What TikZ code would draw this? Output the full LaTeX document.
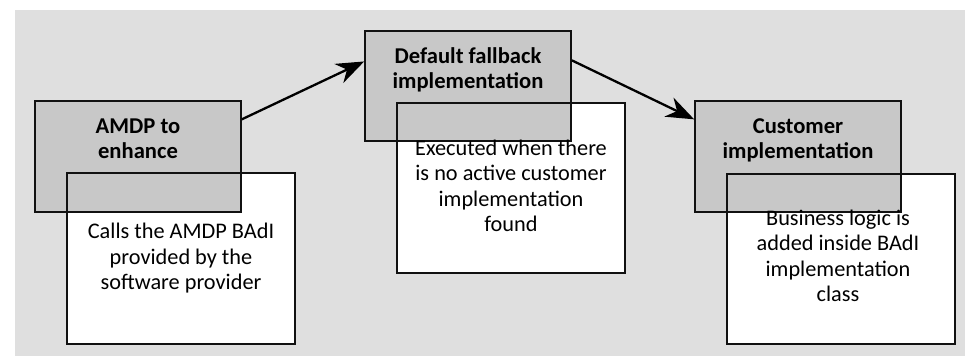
\documentclass[tikz,border=0pt]{standalone}
\usepackage{fontspec}
\setmainfont{Carlito}
\usetikzlibrary{arrows.meta,calc}
\definecolor{bgc}{HTML}{DFDFDF}
\definecolor{greyc}{HTML}{C8C8C8}
\definecolor{linec}{HTML}{111111}
\begin{document}
\begin{tikzpicture}[x=1pt,y=-1pt,
  greybox/.style={draw=linec,line width=1.6pt,fill=greyc,inner sep=0pt},
  whitebox/.style={draw=linec,line width=1.6pt,fill=white,inner sep=0pt},
  frame/.style={draw=linec,line width=1.6pt,fill=none,inner sep=0pt},
  title/.style={anchor=base,align=center,inner sep=0pt,font=\fontsize{22.6}{25}\selectfont\bfseries},
  body/.style={anchor=base,align=center,inner sep=0pt,font=\fontsize{22.3}{25.5}\selectfont},
  flow/.style={line width=2.3pt,-{Stealth[length=28pt,width=21pt,inset=9pt]}}]
\useasboundingbox (0,0) rectangle (965,356);
\fill[bgc] (15,10) rectangle (965,356);
% white boxes
\node[whitebox,minimum width=228pt,minimum height=171pt] (wa) at (181,258.5) {};
\node[whitebox,minimum width=228pt,minimum height=170pt] (wb) at (511,188) {};
\node[whitebox,minimum width=228pt,minimum height=170pt] (wc) at (841,259) {};
% grey boxes
\node[greybox,minimum width=206pt,minimum height=111pt] (ga) at (138,156.5) {};
\node[greybox,minimum width=206pt,minimum height=110pt] (gb) at (468,86) {};
\node[greybox,minimum width=206pt,minimum height=111pt] (gc) at (798,156.5) {};
% white box borders on top
\node[frame,minimum width=228pt,minimum height=171pt] (fa) at (wa) {};
\node[frame,minimum width=228pt,minimum height=170pt] (fb) at (wb) {};
\node[frame,minimum width=228pt,minimum height=170pt] (fc) at (wc) {};
% titles (base anchor = last line's baseline)
\node[title] (ta) at (138,158.3) {AMDP to\\enhance};
\node[title] (tb) at (468,88.3) {Default fallback\\implementation};
\node[title] (tc) at (798,158.3) {Customer\\implementation};
% bodies
\node[body] (ba) at (181,289.5) {Calls the AMDP BAdI\\provided by the\\software provider};
\node[body] (bb) at (511,231.5) {Executed when there\\is no active customer\\implementation\\found};
\node[body] (bc) at (838,301.5) {Business logic is\\added inside BAdI\\implementation\\class};
% connectors
\draw[flow] ($(ga.north east)!0.17!(ga.south east)$) -- ($(gb.north west)!0.28!(gb.south west)$);
\draw[flow] ($(gb.north east)!0.27!(gb.south east)$) -- ($(gc.north west)!0.17!(gc.south west)$);
\end{tikzpicture}
\end{document}
